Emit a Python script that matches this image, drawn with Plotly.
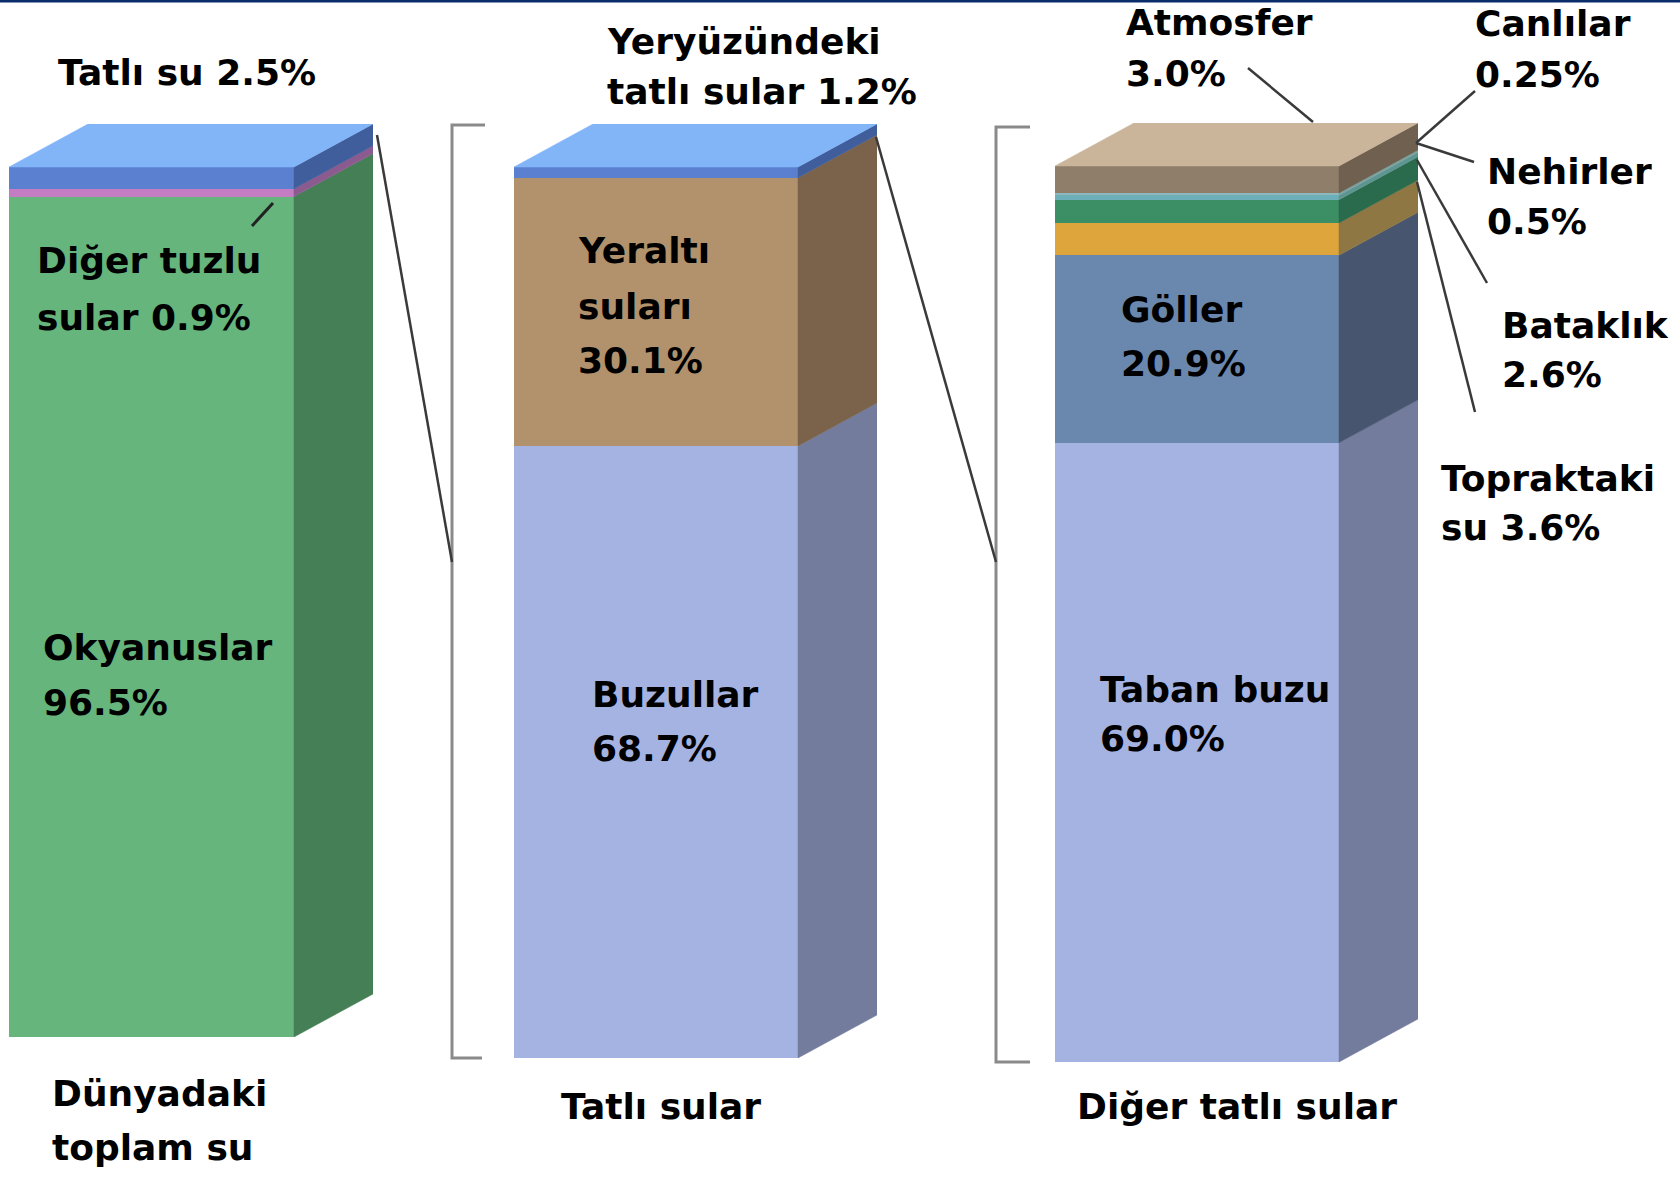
import plotly.graph_objects as go

FIG_W, FIG_H = 1680, 1192

# ---------------- data ----------------
bar1_categories = ["Okyanuslar", "Diğer tuzlu sular", "Tatlı su"]
bar1_values = [96.5, 0.9, 2.5]

bar2_categories = ["Buzullar", "Yeraltı suları", "Yeryüzündeki tatlı sular"]
bar2_values = [68.7, 30.1, 1.2]

bar3_categories = ["Taban buzu", "Göller", "Topraktaki su", "Bataklık",
                   "Nehirler", "Canlılar", "Atmosfer"]
bar3_values = [69.0, 20.9, 3.6, 2.6, 0.5, 0.25, 3.0]

bar_titles = [["Dünyadaki", "toplam su"], ["Tatlı sular"], ["Diğer tatlı sular"]]

# ---------------- styles ----------------
bar1_front = ["#65B57D", "#C47CC2", "#5B80D0"]
bar1_side = ["#447F55", "#8B5B90", "#405D9C"]
bar2_front = ["#A5B3E3", "#B2926C", "#5B80D0"]
bar2_side = ["#737C9C", "#7A634A", "#405D9C"]
bar3_front = ["#A5B3E3", "#6A87AD", "#DDA53C", "#3C8F65", "#6DAFB8", "#8FB8BC", "#8F7E6A"]
bar3_side = ["#737C9C", "#47556F", "#8F7744", "#2A6A4D", "#5E9590", "#7AA3A0", "#6F604F"]
top_colors = ["#82B5F8", "#82B5F8", "#CBB59A"]

# pixel geometry of the front faces
geom = [dict(xl=9, xr=294, top=167, bottom=1037),
        dict(xl=514, xr=798, top=167, bottom=1058),
        dict(xl=1055, xr=1339, top=166, bottom=1062)]
DX, DY = 79, 43

bars = [(bar1_categories, bar1_values, bar1_front, bar1_side),
        (bar2_categories, bar2_values, bar2_front, bar2_side),
        (bar3_categories, bar3_values, bar3_front, bar3_side)]

fig = go.Figure()
layout_axes = {}

for i, ((cats, vals, fronts, sides), g, topc) in enumerate(zip(bars, geom, top_colors)):
    sfx = "" if i == 0 else str(i + 1)
    xref = "x" + sfx
    yref = "y" + sfx
    w = g["xr"] - g["xl"]
    h = g["bottom"] - g["top"]
    total = sum(vals)
    dxu = DX / w
    dyu = total * DY / h
    layout_axes["xaxis" + sfx] = dict(domain=[g["xl"] / FIG_W, (g["xr"] + DX) / FIG_W],
                                      range=[0, 1 + dxu], visible=False, fixedrange=True,
                                      anchor=yref)
    layout_axes["yaxis" + sfx] = dict(domain=[1 - g["bottom"] / FIG_H, 1 - (g["top"] - DY) / FIG_H],
                                      range=[0, total + dyu], visible=False, fixedrange=True,
                                      anchor=xref)
    base = 0.0
    for c, v, fc, sc in zip(cats, vals, fronts, sides):
        fig.add_trace(go.Bar(x=[0.5], y=[v], width=[1], name=c,
                             marker=dict(color=fc, line=dict(width=0)),
                             xaxis=xref, yaxis=yref, showlegend=False, hoverinfo="name"))
        b, t = base, base + v
        fig.add_trace(go.Scatter(x=[1, 1 + dxu, 1 + dxu, 1, 1],
                                 y=[b, b + dyu, t + dyu, t, b],
                                 fill="toself", fillcolor=sc, mode="lines",
                                 line=dict(width=0.5, color=sc),
                                 xaxis=xref, yaxis=yref, showlegend=False, hoverinfo="skip"))
        base = t
    T = base
    fig.add_trace(go.Scatter(x=[0, 1, 1 + dxu, dxu, 0],
                             y=[T, T, T + dyu, T + dyu, T],
                             fill="toself", fillcolor=topc, mode="lines",
                             line=dict(width=0.5, color=topc),
                             xaxis=xref, yaxis=yref, showlegend=False, hoverinfo="skip"))

# ---------------- text ----------------
FONT = dict(family="DejaVu Sans", size=36, color="#000000", weight="bold")
labels = [
    ("Tatlı su 2.5%", 56, 72),
    ("Yeryüzündeki", 605, 42), ("tatlı sular 1.2%", 605, 91),
    ("Atmosfer", 1124, 22), ("3.0%", 1124, 73),
    ("Canlılar", 1473, 24), ("0.25%", 1473, 74),
    ("Nehirler", 1485, 171), ("0.5%", 1485, 221),
    ("Bataklık", 1500, 325), ("2.6%", 1500, 374),
    ("Topraktaki", 1439, 479), ("su 3.6%", 1439, 527),
    ("Diğer tuzlu", 35, 261), ("sular 0.9%", 35, 317),
    ("Okyanuslar", 41, 647), ("96.5%", 41, 702),
    ("Yeraltı", 576, 251), ("suları", 576, 306), ("30.1%", 576, 360),
    ("Buzullar", 590, 694), ("68.7%", 590, 748),
    ("Göller", 1119, 310), ("20.9%", 1119, 364),
    ("Taban buzu", 1098, 689), ("69.0%", 1098, 738),
    (bar_titles[0][0], 50, 1093), (bar_titles[0][1], 50, 1147),
    (bar_titles[1][0], 559, 1106),
    (bar_titles[2][0], 1075, 1106),
]
annotations = [dict(text=t, x=px / FIG_W, y=1 - py / FIG_H, xref="paper", yref="paper",
                    xanchor="left", yanchor="middle", showarrow=False, font=FONT)
               for t, px, py in labels]

# ---------------- lines ----------------
def P(px, py):
    return f"{px / FIG_W:.5f},{1 - py / FIG_H:.5f}"

def line(x0, y0, x1, y1, color="#3A3A3A", width=2.5):
    return dict(type="line", xref="paper", yref="paper",
                x0=x0 / FIG_W, y0=1 - y0 / FIG_H, x1=x1 / FIG_W, y1=1 - y1 / FIG_H,
                line=dict(color=color, width=width), layer="above")

shapes = [
    dict(type="path", xref="paper", yref="paper",
         path=f"M{P(485,125)} L{P(452,125)} L{P(452,1058)} L{P(482,1058)}",
         line=dict(color="#8A8A8A", width=3)),
    dict(type="path", xref="paper", yref="paper",
         path=f"M{P(1030,127)} L{P(996,127)} L{P(996,1062)} L{P(1030,1062)}",
         line=dict(color="#8A8A8A", width=3)),
    line(377, 135, 452, 562),
    line(876, 137, 996, 562),
    line(252, 226, 273, 203, color="#222222", width=3),
    line(1248, 68, 1313, 122),
    line(1475, 91, 1416, 143),
    line(1416, 143, 1474, 162),
    line(1417, 160, 1487, 283),
    line(1417, 182, 1475, 412),
    dict(type="line", xref="paper", yref="paper", x0=0, x1=1, y0=1 - 1 / FIG_H, y1=1 - 1 / FIG_H,
         line=dict(color="#0B2B6B", width=3)),
]

fig.update_layout(
    width=FIG_W, height=FIG_H, autosize=False,
    margin=dict(l=0, r=0, t=0, b=0, pad=0),
    paper_bgcolor="white", plot_bgcolor="rgba(0,0,0,0)",
    barmode="stack", showlegend=False,
    annotations=annotations, shapes=shapes,
    **layout_axes,
)

fig.write_html("out.html",
               config={"displayModeBar": False},
               post_script="document.body.style.margin='0';document.body.style.overflow='hidden';")
